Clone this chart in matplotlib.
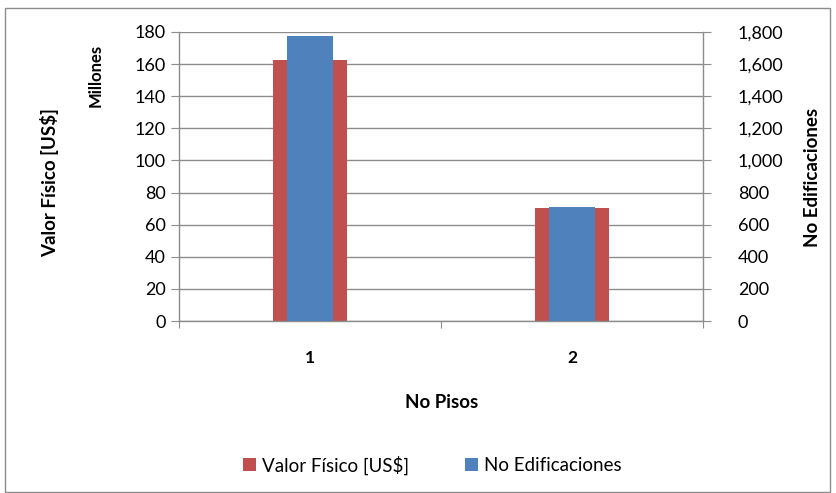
import matplotlib
matplotlib.use("Agg")
import matplotlib.pyplot as plt
from matplotlib.ticker import FuncFormatter, MultipleLocator
from matplotlib.patches import Rectangle, Patch

categories = ["1", "2"]
valor_fisico_millones = [162.6, 70.6]
no_edificaciones = [1775, 712]

RED = "#C0504D"
BLUE = "#4F81BD"
GRID = "#8C8C8C"

plt.rcParams['font.family'] = ['Lato', 'DejaVu Sans']

W, H = 836, 493
fig = plt.figure(figsize=(W / 100, H / 100), dpi=100)

def fx(px):
    return px / W

def fy(py):
    return 1 - py / H

# chart area border
fig.patches.append(Rectangle((fx(5), fy(492)), fx(830) - fx(5), fy(8) - fy(492),
                             transform=fig.transFigure, fill=False,
                             edgecolor="#8C8C8C", linewidth=1.0))

left, right, top, bottom = 179, 703, 32, 321
ax = fig.add_axes([fx(left), fy(bottom), fx(right) - fx(left), fy(top) - fy(bottom)])
ax2 = ax.twinx()

x = list(range(len(categories)))
ax.bar(x, valor_fisico_millones, width=0.286, color=RED, zorder=2)
ax2.bar(x, no_edificaciones, width=0.172, color=BLUE, zorder=2)

ax.set_xlim(-0.5, len(categories) - 0.5)
ax.set_ylim(0, 180)
ax2.set_ylim(0, 1800)
ax.yaxis.set_major_locator(MultipleLocator(20))
ax2.yaxis.set_major_locator(MultipleLocator(200))
ax2.yaxis.set_major_formatter(FuncFormatter(lambda v, p: f"{int(v):,}"))

ax.grid(axis="y", color=GRID, linewidth=1.0, zorder=0)
ax.set_axisbelow(True)

for a in (ax, ax2):
    for s in a.spines.values():
        s.set_visible(False)
    a.patch.set_visible(False)
ax.spines["left"].set_visible(True)
ax.spines["bottom"].set_visible(True)
ax2.spines["right"].set_visible(True)
for s in (ax.spines["left"], ax.spines["bottom"], ax2.spines["right"]):
    s.set_color(GRID)
    s.set_linewidth(1.0)

# category tick marks at boundaries, labels at centers
ax.set_xticks([i - 0.5 for i in range(len(categories) + 1)])
ax.set_xticklabels([])
ax.set_xticks(x, minor=True)
ax.set_xticklabels(categories, minor=True, fontsize=12.5, fontweight="bold")
ax.tick_params(axis="x", which="major", length=5, color=GRID, direction="out")
ax.tick_params(axis="x", which="minor", length=0, pad=21)

ax.tick_params(axis="y", length=6, color=GRID, labelsize=13, pad=3.5, direction="out")
ax2.tick_params(axis="y", length=6, color=GRID, labelsize=13, pad=19, direction="out")

# axis titles
fig.text(fx(50), fy(183), "Valor Físico [US$]", rotation=90, ha="center", va="center",
         fontsize=13.5, fontweight="bold")
fig.text(fx(96), fy(75), "Millones", rotation=90, ha="center", va="center",
         fontsize=12, fontweight="bold")
fig.text(fx(813), fy(177), "No Edificaciones", rotation=90, ha="center", va="center",
         fontsize=13.5, fontweight="bold")
fig.text(fx(442), fy(402), "No Pisos", ha="center", va="center",
         fontsize=13.5, fontweight="bold")

handles = [Patch(facecolor=RED, edgecolor="none"), Patch(facecolor=BLUE, edgecolor="none")]
fig.legend(handles, ["Valor Físico [US$]", "No Edificaciones"], loc="center",
           bbox_to_anchor=(fx(432), fy(465)), ncol=2, frameon=False, fontsize=13.5,
           handlelength=0.7, handleheight=0.7, handletextpad=0.3, columnspacing=3.0)

fig.savefig("out.png", dpi=100)
